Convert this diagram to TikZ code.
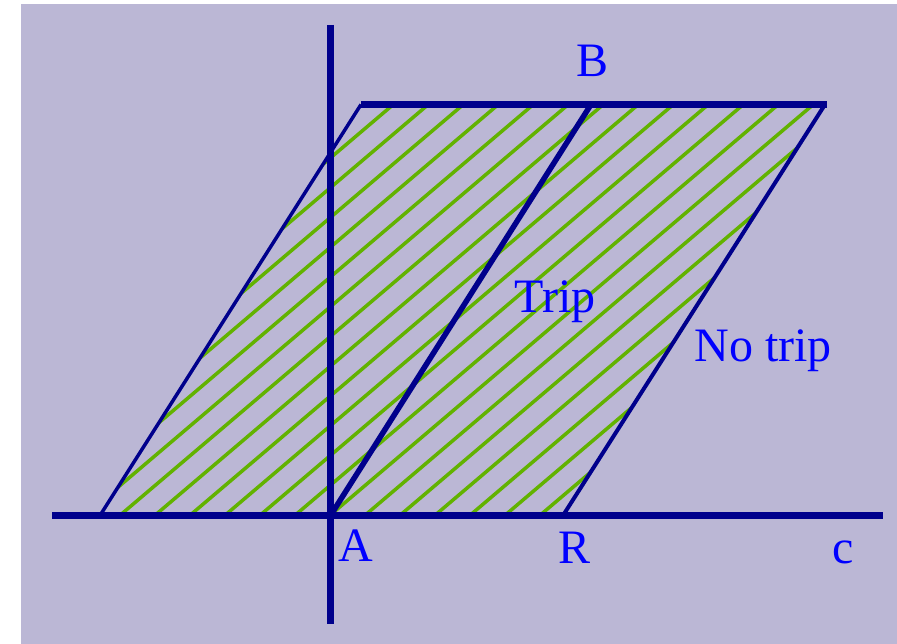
\documentclass[tikz,border=0pt]{standalone}
\usepackage{fontspec}
\setmainfont{Liberation Serif}
\usepackage{tikz}
\usetikzlibrary{calc}
\definecolor{plotBack}{RGB}{187,183,213}
\definecolor{plotNavy}{RGB}{0,0,140}
\definecolor{plotHatch}{RGB}{98,178,0}
\definecolor{plotText}{RGB}{0,0,255}
\tikzset{axisline/.style={plotNavy,line width=7pt},
	edgeline/.style={plotNavy,line width=3.5pt},
	hatchline/.style={plotHatch,line width=3.5pt}}
\newcommand{\ptlabel}[3]{\node[anchor=base,inner sep=0pt,text=plotText,font=\fontsize{48}{48}\selectfont] (#1) at #2 {#3};}
\newcommand{\hatchrow}[1]{\draw[hatchline] ({#1-60},585) -- ++(600,-510);}

\begin{document}
\begin{tikzpicture}[x=1pt,y=-1pt]
		\fill[white] (0,0) rectangle (897,644);
		\fill[plotBack] (21,4) rectangle (897,644);
		\useasboundingbox (0,0) rectangle (897,644);
		\coordinate (origin) at (330.5,515.5); \coordinate (xStart) at (52,515.5); \coordinate (xEnd) at (883,515.5);
		\coordinate (yStart) at (330.5,25); \coordinate (yEnd) at (330.5,624);
		\coordinate (cornerL) at (100,515.5); \coordinate (cornerTL) at (361,104.5);
		\coordinate (cornerTR) at (825,104.5); \coordinate (cornerR) at (563,515.5);
		\coordinate (midTop) at (591,104.5);
		\begin{scope}
			\clip (cornerL) -- (cornerTL) -- (cornerTR) -- (cornerR) -- cycle;
			\foreach \k in {-8,...,13} {\hatchrow{133+35*\k}}
		\end{scope}
		\draw[edgeline] (cornerL) -- (cornerTL);
		\draw[edgeline,line width=4pt] (cornerR) -- (cornerTR);
		\draw[edgeline,line width=5.5pt] (origin) -- (midTop);
		\draw[axisline] (cornerTL) -- ($(cornerTR)+(2,0)$);
		\draw[axisline] (xStart) -- (xEnd);
		\draw[axisline] (yStart) -- (yEnd);
		\ptlabel{labB}{(593,77)}{B}\ptlabel{labTrip}{(555,313)}{Trip}\ptlabel{labNoTrip}{(763,361)}{No trip}
		\ptlabel{labA}{(356,561)}{A}\ptlabel{labR}{(575,563)}{R}\ptlabel{labC}{(843,563)}{c}
\end{tikzpicture}
\end{document}
